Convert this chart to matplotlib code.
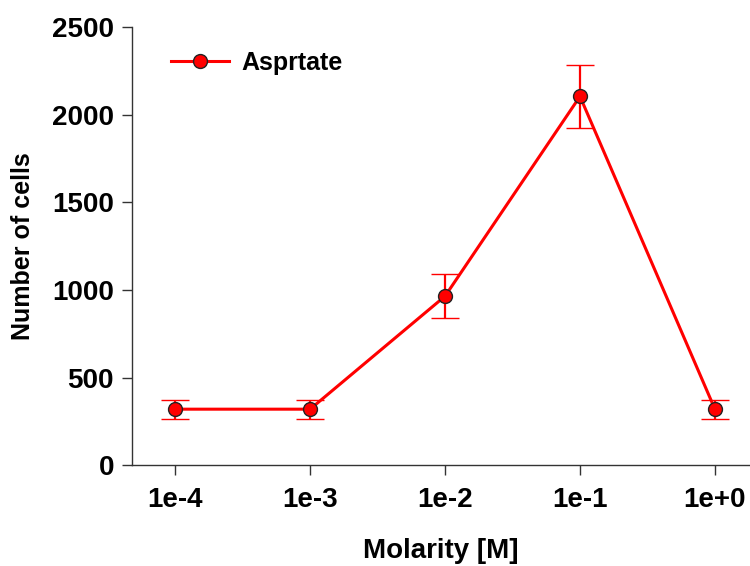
import matplotlib
matplotlib.use("Agg")
import matplotlib.pyplot as plt
from matplotlib.lines import Line2D

plt.rcParams['font.family'] = ['Liberation Sans', 'DejaVu Sans']
plt.rcParams['font.weight'] = 'bold'

categories = ["1e-4", "1e-3", "1e-2", "1e-1", "1e+0"]
values = [320, 320, 965, 2105, 320]
errors = [55, 55, 125, 180, 55]

fig = plt.figure(figsize=(7.5, 5.66), dpi=100)
ax = fig.add_axes([0.176, 0.178, 0.824, 0.774])

x = list(range(len(categories)))
ax.errorbar(x, values, yerr=errors, color='#ff0000', lw=2.2, capsize=10,
            elinewidth=1.6, capthick=1.8, marker='o', markersize=10,
            markerfacecolor='#ff0000', markeredgecolor='#222222',
            markeredgewidth=1.0, zorder=3)

ax.set_xlim(-0.32, 4.26)
ax.set_ylim(0, 2500)
ax.set_xticks(x)
ax.set_xticklabels(categories)
ax.set_yticks([0, 500, 1000, 1500, 2000, 2500])

for s in ['top', 'right']:
    ax.spines[s].set_visible(False)
for s in ['left', 'bottom']:
    ax.spines[s].set_color('#333333')
    ax.spines[s].set_linewidth(1.0)
ax.tick_params(direction='out', length=7, width=1, color='#333333',
               labelsize=20, pad=6)
ax.tick_params(axis='x', pad=9)
for lab in ax.get_xticklabels() + ax.get_yticklabels():
    lab.set_fontweight('bold')

ax.set_xlabel('Molarity [M]', fontsize=20, fontweight='bold', labelpad=18)
ax.set_ylabel('Number of cells', fontsize=18, fontweight='bold', labelpad=12)

handle = Line2D([], [], color='#ff0000', lw=2.2, marker='o', markersize=10,
                markerfacecolor='#ff0000', markeredgecolor='#222222',
                markeredgewidth=1.0)
leg = ax.legend([handle], ['Asprtate'], loc='upper left', frameon=False,
                fontsize=18, handlelength=2.3, handletextpad=0.5,
                borderaxespad=0.3, bbox_to_anchor=(0.035, 0.985))
for t in leg.get_texts():
    t.set_fontweight('bold')

fig.savefig('out.png', dpi=100)
